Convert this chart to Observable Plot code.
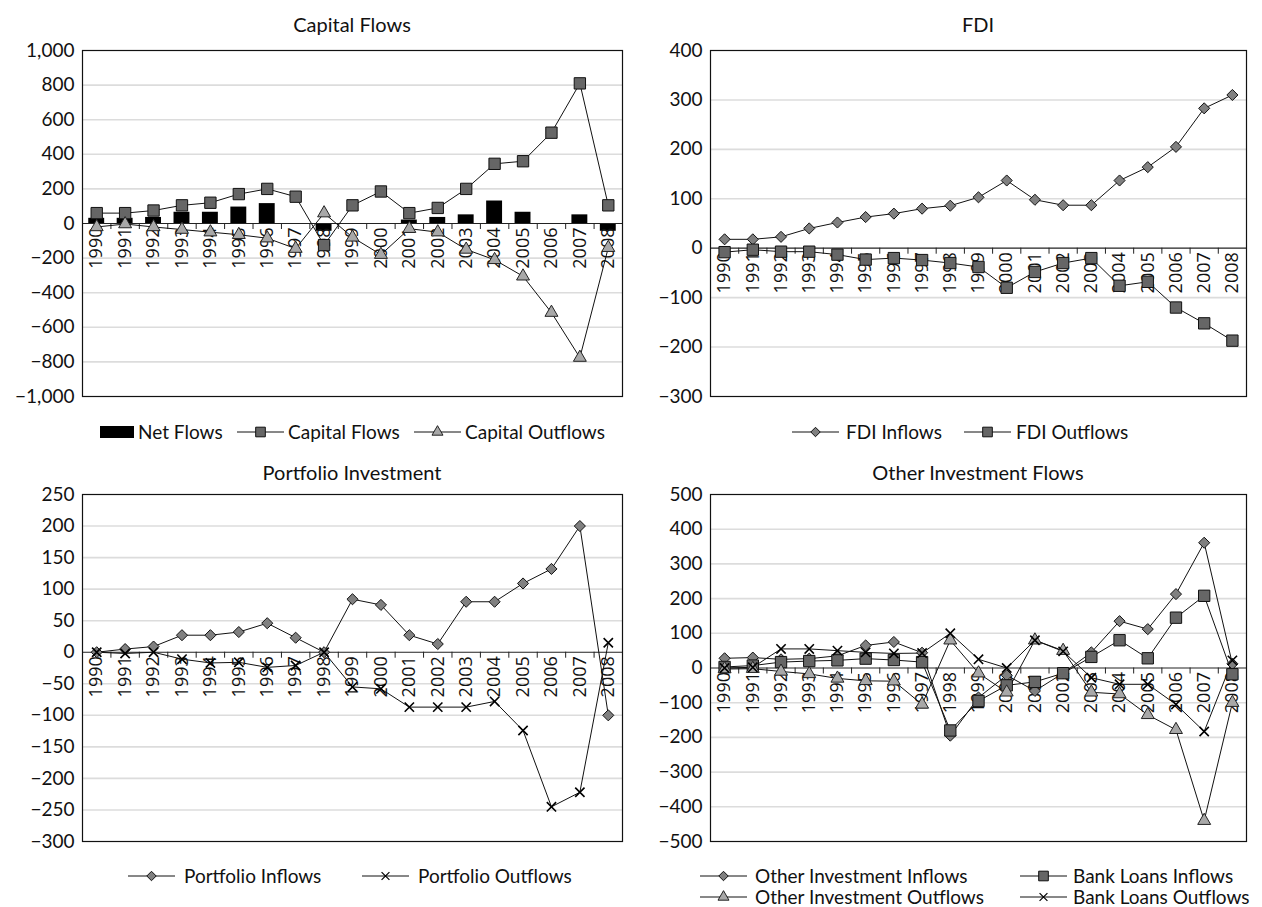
<!DOCTYPE html>
<html><head><meta charset="utf-8">
<script src="https://cdn.jsdelivr.net/npm/d3@7"></script>
<script src="https://cdn.jsdelivr.net/npm/@observablehq/plot@0.6"></script>
<style>
body{margin:0;background:#fff;font-family:Lato,"Open Sans",sans-serif;color:#111;}
#root{position:relative;width:1262px;height:907px;overflow:hidden;background:#fff;}
.title{position:absolute;text-align:center;font-size:20px;line-height:24px;white-space:nowrap;}
.lg{position:absolute;font-size:19px;line-height:22px;white-space:nowrap;}
.sw{position:absolute;}
svg.plot{position:absolute;}
</style></head><body><div id="root"></div>
<script>
// ---------- data ----------
const years = [1990,1991,1992,1993,1994,1995,1996,1997,1998,1999,2000,2001,2002,2003,2004,2005,2006,2007,2008];

const netFlows        = [30, 30, 35, 65, 65, 95, 115, 0, -45, 0, 0, 20, 35, 50, 130, 65, 0, 50, -45];
const capitalFlows    = [60, 60, 75, 105, 120, 170, 200, 155, -125, 105, 185, 60, 90, 200, 345, 360, 525, 810, 105];
const capitalOutflows = [-20, -3, -20, -35, -50, -65, -85, -145, 60, -80, -180, -30, -50, -150, -210, -305, -515, -775, -140];

const fdiInflows  = [18, 18, 23, 40, 52, 63, 70, 80, 86, 103, 137, 98, 87, 87, 137, 164, 205, 283, 310];
const fdiOutflows = [-8, -3, -7, -7, -13, -23, -20, -24, -30, -38, -80, -48, -30, -20, -76, -68, -120, -152, -187];

const portfolioInflows  = [0, 5, 9, 27, 27, 32, 46, 23, 0, 84, 75, 27, 13, 80, 80, 109, 132, 200, -100];
const portfolioOutflows = [0, -2, 0, -11, -17, -16, -24, -21, 0, -55, -58, -87, -87, -87, -78, -124, -245, -222, 15];

const otherInvInflows   = [28, 30, 25, 27, 35, 65, 75, 44, -195, -85, -21, -66, -15, 45, 135, 112, 213, 361, 12];
const bankLoansInflows  = [3, 7, 17, 20, 22, 27, 23, 17, -180, -95, -50, -40, -15, 32, 80, 28, 145, 208, -18];
const otherInvOutflows  = [-3, -2, -10, -17, -30, -37, -38, -105, 80, -15, -70, 80, 50, -70, -75, -135, -178, -440, -100];
const bankLoansOutflows = [0, 2, 55, 55, 50, 45, 42, 43, 100, 25, 0, 80, 48, -28, -47, -47, -105, -183, 22];

const ticksCapital   = [-1000,-800,-600,-400,-200,0,200,400,600,800,1000];
const ticksFDI       = [-300,-200,-100,0,100,200,300,400];
const ticksPortfolio = [-300,-250,-200,-150,-100,-50,0,50,100,150,200,250];
const ticksOther     = [-500,-400,-300,-200,-100,0,100,200,300,400,500];

// ---------- styles ----------
const STY = {
  square:   {symbol: "square",   r: 6.4, fill: "#666666", stroke: "#111", strokeWidth: 1},
  triangle: {symbol: "triangle", r: 4.8, fill: "#a8a8a8", stroke: "#222", strokeWidth: 1},
  diamond:  {symbol: "diamond2", r: 5.0, fill: "#808080", stroke: "#111", strokeWidth: 1},
  times:    {symbol: "times",    r: 4.3, fill: "none",    stroke: "#000", strokeWidth: 1.6}
};

const root = document.getElementById("root");
const boundaries = years.slice(0, -1).map(y => y + 0.5);
const fmt = d3.format(",.0f");

function panel(cfg) {
  const {left, frameLeft, frameRight, frameTop, frameBottom, domain, ticks, series, bars, title, titleCenter} = cfg;
  const width = 631, mt = 12, mb = 10;
  const height = frameBottom - frameTop + mt + mb;
  const tickLen = (domain[1] - domain[0]) * 6 / (frameBottom - frameTop);
  const marks = [
    Plot.ruleY(ticks.filter(t => t !== 0 && t !== domain[0] && t !== domain[1]), {stroke: "#dcdcdc", strokeWidth: 1.6}),
  ];
  if (bars) {
    const bd = years.map((y, i) => ({year: y, v: bars[i]}));
    marks.push(Plot.rect(bd, {x1: d => d.year - 0.28, x2: d => d.year + 0.28, y1: 0, y2: "v", fill: "black"}));
  }
  marks.push(
    Plot.ruleY([0], {stroke: "#222", strokeWidth: 1.2}),
    Plot.ruleX(boundaries, {y1: 0, y2: -tickLen, stroke: "#222"}),
    Plot.text(years, {x: d => d, y: 0, text: d => String(d), rotate: -90, textAnchor: "end", dy: 4,
      fontSize: 18, fontFamily: "'Open Sans', Lato, sans-serif", fill: "#111"})
  );
  for (const s of series) {
    const d = years.map((y, i) => ({year: y, v: s.values[i]}));
    marks.push(Plot.line(d, {x: "year", y: "v", stroke: "#111", strokeWidth: 1}));
  }
  for (const s of series) {
    const d = years.map((y, i) => ({year: y, v: s.values[i]}));
    marks.push(Plot.dot(d, {x: "year", y: "v", ...STY[s.marker]}));
  }
  marks.push(Plot.frame({stroke: "#111", strokeWidth: 1.2}));
  const svg = Plot.plot({
    width, height,
    marginLeft: frameLeft - left, marginRight: left + width - frameRight,
    marginTop: mt, marginBottom: mb,
    x: {domain: [1989.5, 2008.5], axis: null},
    y: {domain, ticks, tickFormat: fmt, tickSize: 0, tickPadding: 8, label: null},
    style: {fontFamily: "Lato, 'Open Sans', sans-serif", fontSize: "19px", color: "#111", background: "transparent", overflow: "visible"},
    marks
  });
  svg.classList.add("plot");
  svg.style.left = left + "px";
  svg.style.top = (frameTop - mt) + "px";
  root.appendChild(svg);

  const t = document.createElement("div");
  t.className = "title";
  t.textContent = title;
  t.style.left = frameLeft + "px";
  t.style.width = (frameRight - frameLeft) + "px";
  t.style.top = (titleCenter - 12) + "px";
  root.appendChild(t);
}

function swatch(kind, x, y) {
  const w = 47, h = 16;
  const svg = d3.create("svg").attr("class", "sw").attr("width", w).attr("height", h)
    .style("left", x + "px").style("top", (y - h / 2) + "px");
  if (kind === "bar") {
    svg.attr("width", 34);
    svg.append("rect").attr("x", 0).attr("y", 2).attr("width", 34).attr("height", 12).attr("fill", "black");
  } else {
    svg.append("line").attr("x1", 0).attr("x2", w).attr("y1", h / 2).attr("y2", h / 2).attr("stroke", "#111");
    const st = STY[kind];
    const map = {square: d3.symbolSquare, triangle: d3.symbolTriangle, diamond: d3.symbolDiamond2, times: d3.symbolTimes};
    const size = Math.PI * (st.r * 0.85) ** 2;
    svg.append("path").attr("d", d3.symbol(map[kind], size)())
      .attr("transform", `translate(${w / 2},${h / 2})`)
      .attr("fill", st.fill).attr("stroke", st.stroke).attr("stroke-width", kind === "times" ? 1.2 : st.strokeWidth);
  }
  root.appendChild(svg.node());
}
function legendItem(kind, label, x, textX, y) {
  swatch(kind, x, y);
  const d = document.createElement("div");
  d.className = "lg";
  d.textContent = label;
  d.style.left = textX + "px";
  d.style.top = (y - 11) + "px";
  root.appendChild(d);
}

// ---------- panels ----------
panel({title: "Capital Flows", titleCenter: 24, left: 0, frameLeft: 82, frameRight: 622, frameTop: 50, frameBottom: 396,
  domain: [-1000, 1000], ticks: ticksCapital, bars: netFlows,
  series: [{values: capitalFlows, marker: "square"}, {values: capitalOutflows, marker: "triangle"}]});
legendItem("bar", "Net Flows", 100, 138, 432);
legendItem("square", "Capital Flows", 237, 288, 432);
legendItem("triangle", "Capital Outflows", 414, 465, 432);

panel({title: "FDI", titleCenter: 24, left: 631, frameLeft: 710, frameRight: 1246, frameTop: 50, frameBottom: 396,
  domain: [-300, 400], ticks: ticksFDI,
  series: [{values: fdiInflows, marker: "diamond"}, {values: fdiOutflows, marker: "square"}]});
legendItem("diamond", "FDI Inflows", 792, 846, 432);
legendItem("square", "FDI Outflows", 964, 1016, 432);

panel({title: "Portfolio Investment", titleCenter: 472, left: 0, frameLeft: 82, frameRight: 622, frameTop: 494, frameBottom: 841,
  domain: [-300, 250], ticks: ticksPortfolio,
  series: [{values: portfolioInflows, marker: "diamond"}, {values: portfolioOutflows, marker: "times"}]});
legendItem("diamond", "Portfolio Inflows", 128, 184, 876);
legendItem("times", "Portfolio Outflows", 362, 418, 876);

panel({title: "Other Investment Flows", titleCenter: 472, left: 631, frameLeft: 710, frameRight: 1246, frameTop: 494, frameBottom: 841,
  domain: [-500, 500], ticks: ticksOther,
  series: [{values: otherInvInflows, marker: "diamond"}, {values: bankLoansInflows, marker: "square"},
           {values: otherInvOutflows, marker: "triangle"}, {values: bankLoansOutflows, marker: "times"}]});
legendItem("diamond", "Other Investment Inflows", 700, 755, 876);
legendItem("square", "Bank Loans Inflows", 1020, 1073, 876);
legendItem("triangle", "Other Investment Outflows", 700, 755, 897);
legendItem("times", "Bank Loans Outflows", 1020, 1073, 897);
</script></body></html>
